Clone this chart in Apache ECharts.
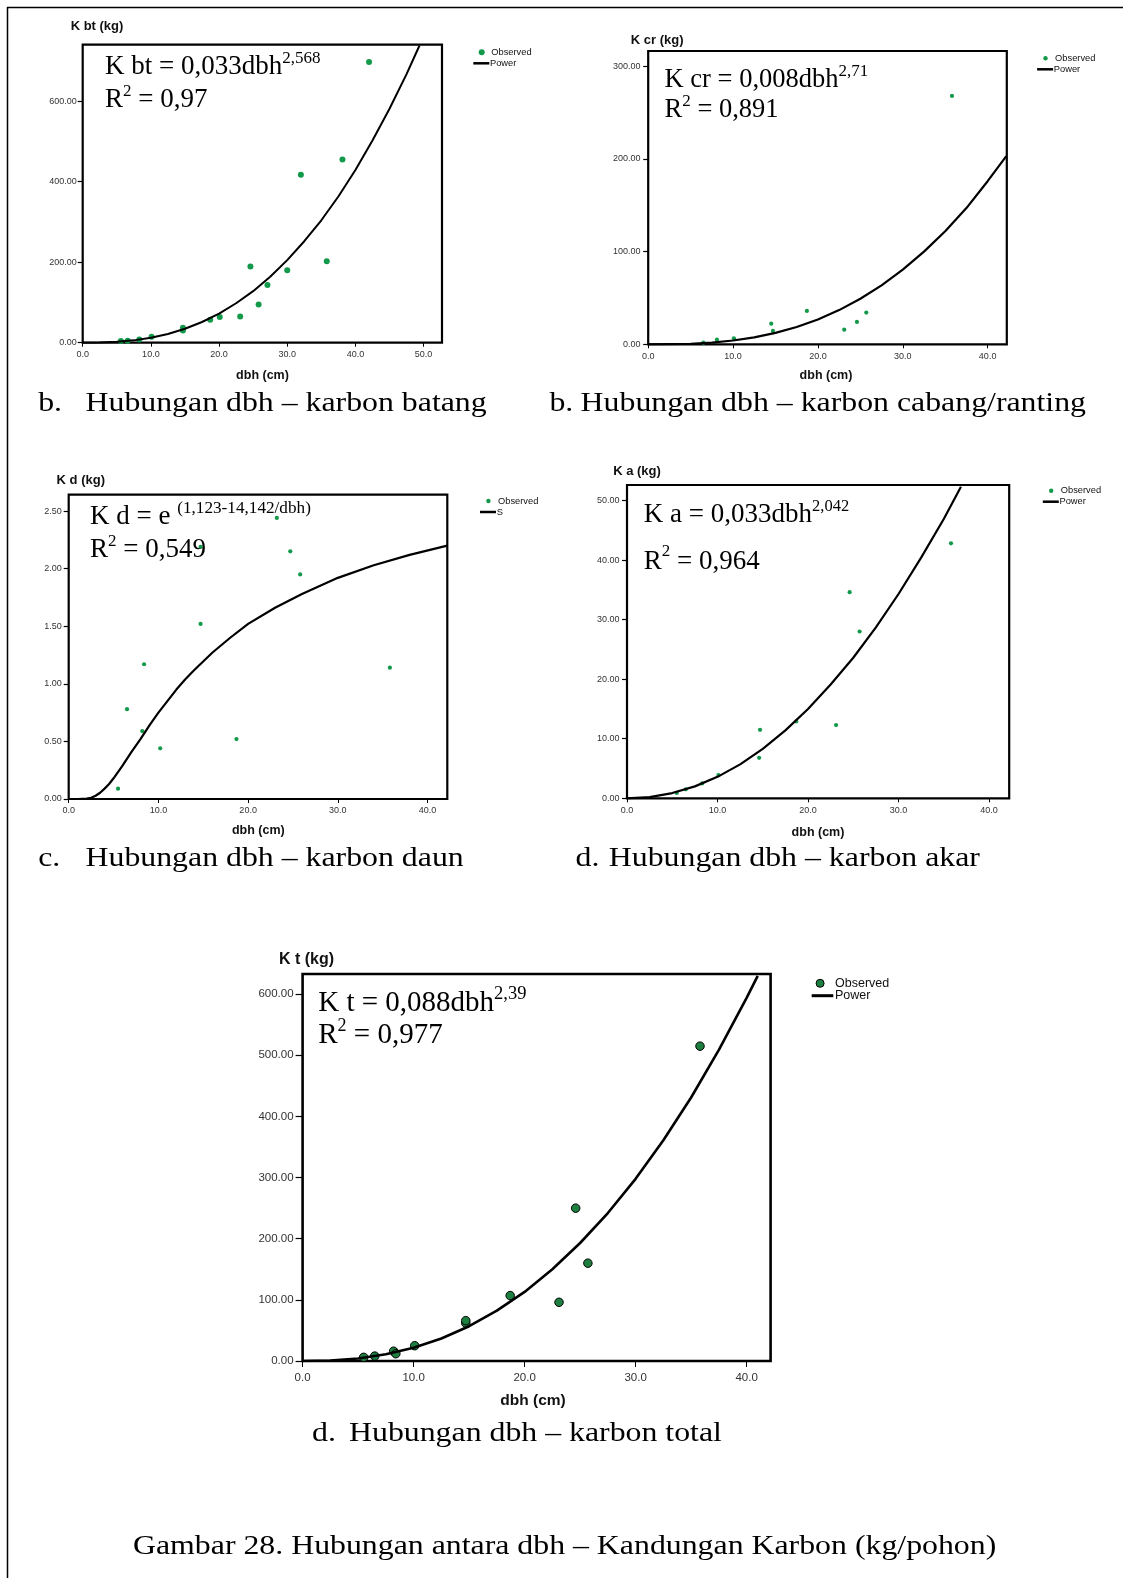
<!DOCTYPE html>
<html>
<head>
<meta charset="utf-8">
<title>Hubungan antara dbh – Kandungan Karbon</title>
<script src="https://cdn.jsdelivr.net/npm/echarts@6/dist/echarts.min.js"></script>
<style>
  html, body { margin: 0; padding: 0; background: #fff; }
  #page { width: 1123px; height: 1578px; }
</style>
</head>
<body>
<div id="page"></div>
<script>
// observed points (dbh in cm, carbon in kg)
const batangDbh = [5.6, 6.6, 8.3, 10.1, 14.7, 14.7, 18.7, 20.1, 23.1, 24.6, 25.8, 27.1, 30.0, 32.0, 35.8, 38.1, 42.0];
const batangKg  = [4, 5, 8, 15, 37, 30, 57, 64, 65, 189, 95, 143, 180, 417, 202, 455, 697];
const cabangDbh = [6.5, 8.1, 10.1, 14.5, 14.7, 18.7, 23.1, 24.6, 25.7, 35.8];
const cabangKg  = [1.8, 5, 6.5, 22.3, 14.4, 36, 15.8, 24.1, 34.2, 268];
const daunDbh = [5.5, 6.5, 8.2, 8.4, 10.2, 14.7, 14.7, 18.7, 23.2, 24.7, 25.8, 35.8];
const daunKg  = [0.09, 0.78, 0.59, 1.17, 0.44, 1.52, 2.19, 0.52, 2.44, 2.15, 1.95, 1.14];
const akarDbh = [5.5, 6.5, 8.3, 10.1, 14.6, 14.7, 18.7, 23.1, 24.6, 25.7, 35.8];
const akarKg  = [0.9, 1.5, 2.5, 3.9, 6.8, 11.5, 12.9, 12.3, 34.6, 28.0, 42.8];
const totalDbh = [5.5, 6.5, 8.2, 8.4, 10.1, 14.7, 14.7, 18.7, 23.1, 24.6, 25.7, 35.8];
const totalKg  = [6, 8, 16, 12, 25, 62, 66, 107, 96, 250, 160, 515];

// fitted curves
const batangFitDbh = [0, 2.5, 5, 7.5, 10, 12.5, 15, 17.5, 20, 22.5, 25, 27.5, 30, 32.5, 35, 37.5, 40, 42.5, 45, 47.5, 49.4];
const batangFitKg  = [0, 0.35, 2.1, 5.8, 12.2, 21.7, 34.6, 51.4, 72.4, 98, 128, 164, 205, 252, 304, 363, 429, 502, 581, 667, 738];
const cabangFitDbh = [0, 2.5, 5, 7.5, 10, 12.5, 15, 17.5, 20, 22.5, 25, 27.5, 30, 32.5, 35, 37.5, 40, 42.2];
const cabangFitKg  = [0, 0.1, 0.6, 1.9, 4.1, 7.5, 12.3, 18.7, 26.8, 36.9, 49.2, 63.6, 80.6, 100, 122, 147, 176, 203];
const daunFitDbh = [0, 1, 2, 2.5, 3, 3.5, 4, 4.5, 5, 6, 7, 8, 9, 10, 11, 12, 13, 14, 16, 18, 20, 23, 26, 30, 34, 38, 42.2];
const daunFitKg  = [0, 0, 0.003, 0.01, 0.028, 0.054, 0.09, 0.13, 0.18, 0.29, 0.41, 0.52, 0.64, 0.75, 0.85, 0.95, 1.04, 1.12, 1.27, 1.40, 1.52, 1.66, 1.78, 1.92, 2.03, 2.12, 2.20];
const akarFitDbh = [0, 2.5, 5, 7.5, 10, 12.5, 15, 17.5, 20, 22.5, 25, 27.5, 30, 32.5, 35, 36.9];
const akarFitKg  = [0, 0.21, 0.88, 2.0, 3.6, 5.7, 8.3, 11.4, 15.0, 19.1, 23.6, 28.7, 34.3, 40.4, 46.9, 52.3];
const totalFitDbh = [0, 2.5, 5, 7.5, 10, 12.5, 15, 17.5, 20, 22.5, 25, 27.5, 30, 32.5, 35, 37.5, 40, 41.0];
const totalFitKg  = [0, 0.8, 4.1, 10.9, 21.6, 36.9, 56.9, 82.3, 113, 150, 193, 242, 298, 361, 431, 509, 594, 630];

// tick labels
const dbhTicks50 = [0, 10, 20, 30, 40, 50];
const dbhTicks40 = [0, 10, 20, 30, 40];
const batangTicks = [0, 200, 400, 600];
const cabangTicks = [0, 100, 200, 300];
const daunTicks = [0, 0.5, 1, 1.5, 2, 2.5];
const akarTicks = [0, 10, 20, 30, 40, 50];
const totalTicks = [0, 100, 200, 300, 400, 500, 600];

const SANS = '"Liberation Sans", Arial, sans-serif';
const SERIF = '"Liberation Serif", "Times New Roman", serif';
const GREEN = '#12994a';

const zip = (xs, ys) => xs.map((x, i) => [x, ys[i]]);

const measureCtx = document.createElement('canvas').getContext('2d');
function textWidth(str, size) {
  measureCtx.font = size + 'px ' + SERIF;
  return measureCtx.measureText(str).width;
}
// a line of serif text with superscripts: parts = [text, size, dy]
function runText(x, y, parts) {
  const out = [];
  let cx = x;
  parts.forEach(([t, s, dy]) => {
    out.push({
      type: 'text', x: cx, y: y + 2 + dy,
      style: { text: t, fontSize: s, fontFamily: SERIF, fill: '#000', align: 'left', verticalAlign: 'middle' }
    });
    cx += textWidth(t, s);
  });
  return out;
}
function label(x, y, text, size, bold, align) {
  return {
    type: 'text', x: x, y: y,
    style: { text: text, fontSize: size, fontWeight: bold ? 'bold' : 'normal', fontFamily: SANS,
      fill: '#111', align: align || 'center', verticalAlign: 'middle' }
  };
}
function caption(x, y, text) {
  return {
    type: 'text', x: x, y: y + 4, scaleX: 1.157,
    style: { text: text, fontSize: 27.5, fontFamily: SERIF, fill: '#000', align: 'left', verticalAlign: 'middle' }
  };
}
function legend(x, y, lineName, size, dotR, big) {
  const els = [];
  els.push({ type: 'circle', shape: { cx: x + 8.4, cy: y, r: dotR },
    style: big ? { fill: '#1d8040', stroke: '#000', lineWidth: 1 } : { fill: GREEN } });
  els.push(label(x + (big ? 23.3 : 18), y, 'Observed', size, false, 'left'));
  const ly = y + (big ? 12.4 : 11);
  const lw = big ? 21.6 : 16;
  els.push({ type: 'line', shape: { x1: x, y1: ly, x2: x + lw, y2: ly }, style: { stroke: '#000', lineWidth: big ? 3 : 2.5 } });
  els.push(label(x + lw + (big ? 1.7 : 0.7), ly, lineName, size, false, 'left'));
  return els;
}

const grids = [
  { left: 82.7, top: 44.7, width: 359.3, height: 298 },
  { left: 648.2, top: 51, width: 358.6, height: 293.3 },
  { left: 68.7, top: 494.7, width: 378.6, height: 304.3 },
  { left: 627, top: 485, width: 382.2, height: 313.3 },
  { left: 302.6, top: 974, width: 468, height: 387 }
].map((g, i) => Object.assign(g, { show: true, borderColor: '#000', borderWidth: i === 4 ? 2.6 : 2.2, backgroundColor: 'transparent' }));

function xAxis(idx, max, ticks, margin, size) {
  return {
    type: 'value', gridIndex: idx, min: 0, max: max,
    axisLine: { show: false }, splitLine: { show: false },
    axisTick: { show: true, length: idx === 4 ? 6 : 4, customValues: ticks, lineStyle: { color: '#000', width: 1 } },
    axisLabel: { customValues: ticks, margin: margin, fontSize: size, fontFamily: SANS, color: '#333',
      formatter: v => v.toFixed(1) }
  };
}
function yAxis(idx, max, ticks, margin, size) {
  return {
    type: 'value', gridIndex: idx, min: 0, max: max,
    axisLine: { show: false }, splitLine: { show: false },
    axisTick: { show: true, length: idx === 4 ? 7 : 5, customValues: ticks, lineStyle: { color: '#000', width: 1.2 } },
    axisLabel: { customValues: ticks, margin: margin, fontSize: size, fontFamily: SANS, color: '#333',
      formatter: v => v.toFixed(2) }
  };
}

function observed(idx, xs, ys, size, big) {
  return {
    type: 'scatter', xAxisIndex: idx, yAxisIndex: idx, data: zip(xs, ys),
    symbolSize: size, silent: true,
    itemStyle: big ? { color: '#1d8040', borderColor: '#000', borderWidth: 1, opacity: 1 } : { color: GREEN, opacity: 1 }
  };
}
function fit(idx, xs, ys, width) {
  return {
    type: 'line', xAxisIndex: idx, yAxisIndex: idx, data: zip(xs, ys),
    showSymbol: false, smooth: false, silent: true,
    lineStyle: { color: '#000', width: width, join: 'round' }
  };
}

const graphics = [].concat(
  // page frame
  [{ type: 'line', shape: { x1: 7.5, y1: 7, x2: 7.5, y2: 1578 }, style: { stroke: '#000', lineWidth: 1.5 } },
   { type: 'line', shape: { x1: 7, y1: 7.5, x2: 1123, y2: 7.5 }, style: { stroke: '#000', lineWidth: 1.5 } }],

  // chart b (batang)
  label(97, 26.7, 'K bt (kg)', 13, true),
  label(262.5, 375.7, 'dbh (cm)', 12.5, true),
  runText(105, 65, [['K bt = 0,033dbh', 27, 0], ['2,568', 17, -8.5]]),
  runText(105, 98.3, [['R', 27, 0], ['2', 17, -8.5], [' = 0,97', 27, 0]]),
  legend(473.3, 52.3, 'Power', 9.3, 3),

  // chart b (cabang/ranting)
  label(657.2, 40, 'K cr (kg)', 13, true),
  label(826, 376, 'dbh (cm)', 12.5, true),
  runText(664.6, 78.3, [['K cr = 0,008dbh', 26.5, 0], ['2,71', 17, -9]]),
  runText(664.6, 108.3, [['R', 26.5, 0], ['2', 17, -8.5], [' = 0,891', 26.5, 0]]),
  legend(1037.1, 58.3, 'Power', 9.3, 2.2),

  // chart c (daun)
  label(80.8, 480, 'K d (kg)', 13, true),
  label(258.3, 831, 'dbh (cm)', 12.5, true),
  runText(90, 515, [['K d = e ', 27, 0], ['(1,123-14,142/dbh)', 17.2, -8.3]]),
  runText(90, 548.3, [['R', 27, 0], ['2', 17, -8.5], [' = 0,549', 27, 0]]),
  legend(480, 501, 'S', 9.3, 2.2),

  // chart d (akar)
  label(637, 471.7, 'K a (kg)', 13, true),
  label(818, 832.7, 'dbh (cm)', 12.5, true),
  runText(643.8, 513.3, [['K a = 0,033dbh', 27, 0], ['2,042', 16.5, -9]]),
  runText(643.8, 560, [['R', 27, 0], ['2', 17, -10], [' = 0,964', 27, 0]]),
  legend(1042.8, 490.7, 'Power', 9.3, 2.2),

  // chart d (total)
  label(306.5, 960, 'K t (kg)', 16, true),
  label(533, 1401, 'dbh (cm)', 15.5, true),
  runText(318.2, 1001.7, [['K t = 0,088dbh', 29, 0], ['2,39', 18.5, -10]]),
  runText(318.2, 1033.3, [['R', 29, 0], ['2', 18, -9.5], [' = 0,977', 29, 0]]),
  legend(811.7, 983.3, 'Power', 12.5, 4, true),

  // captions
  [caption(38.2, 399.6, 'b.'), caption(85.5, 399.6, 'Hubungan dbh – karbon batang'),
   caption(549.4, 399.6, 'b.'), caption(580.6, 399.6, 'Hubungan dbh – karbon cabang/ranting'),
   caption(38.2, 854.6, 'c.'), caption(85.5, 854.6, 'Hubungan dbh – karbon daun'),
   caption(575.6, 854.6, 'd.'), caption(608.8, 854.6, 'Hubungan dbh – karbon akar'),
   caption(312, 1430, 'd.'), caption(349, 1430, 'Hubungan dbh – karbon total'),
   caption(133, 1542.6, 'Gambar 28. Hubungan antara dbh – Kandungan Karbon (kg/pohon)')]
);

const chart = echarts.init(document.getElementById('page'), null, { renderer: 'canvas' });
chart.setOption({
  animation: false,
  backgroundColor: '#fff',
  grid: grids,
  xAxis: [
    xAxis(0, 52.7, dbhTicks50, 7.3, 9),
    xAxis(1, 42.26, dbhTicks40, 7.9, 9),
    xAxis(2, 42.2, dbhTicks40, 7.5, 9),
    xAxis(3, 42.23, dbhTicks40, 8.2, 9),
    xAxis(4, 42.16, dbhTicks40, 10.5, 11.5)
  ],
  yAxis: [
    yAxis(0, 740, batangTicks, 6, 9),
    yAxis(1, 316.5, cabangTicks, 7.7, 9),
    yAxis(2, 2.642, daunTicks, 7, 9),
    yAxis(3, 52.6, akarTicks, 7.4, 9),
    yAxis(4, 633, totalTicks, 9, 11.5)
  ],
  series: [
    fit(0, batangFitDbh, batangFitKg, 2),
    observed(0, batangDbh, batangKg, 6),
    fit(1, cabangFitDbh, cabangFitKg, 2.2),
    observed(1, cabangDbh, cabangKg, 4.2),
    fit(2, daunFitDbh, daunFitKg, 2.2),
    observed(2, daunDbh, daunKg, 4.2),
    fit(3, akarFitDbh, akarFitKg, 2.2),
    observed(3, akarDbh, akarKg, 4.2),
    fit(4, totalFitDbh, totalFitKg, 2.6),
    observed(4, totalDbh, totalKg, 8.5, true)
  ],
  graphic: { elements: graphics }
});
</script>
</body>
</html>
